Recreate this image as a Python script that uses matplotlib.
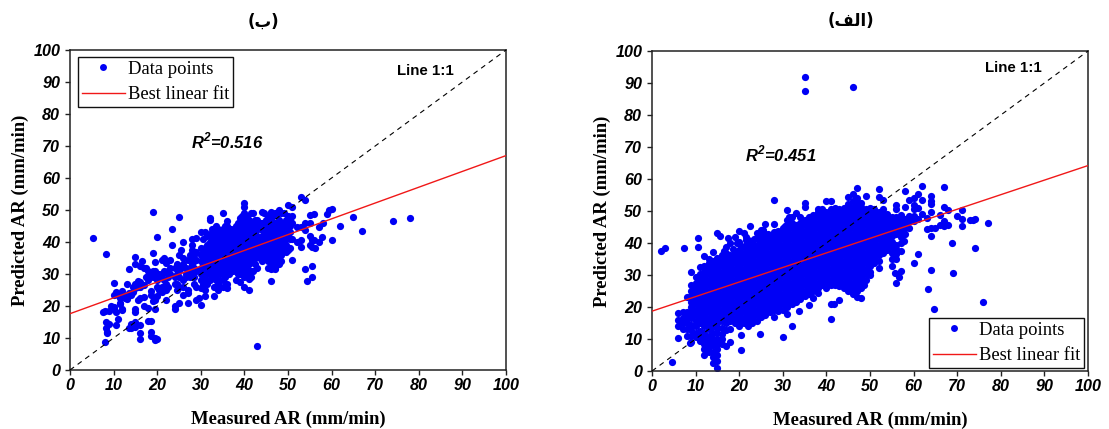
import matplotlib
matplotlib.use("Agg")
import matplotlib.pyplot as plt
from matplotlib.lines import Line2D

W, H = 1109, 429
TICKS = list(range(0, 101, 10))
TITLE_B = "(\u0628)"
TITLE_A = "(\uFED2\uFEDF\u0627)"
R2_B = "0.516"
R2_A = "0.451"
FIT_X = [0, 100]
FIT_B = [17.6, 67.0]
FIT_A = [18.7, 64.2]
ONE_TO_ONE = [0, 100]

measured_b = [5.2, 7.5, 8, 8.3, 8.5, 9, 9.5, 10, 10.5, 11, 11.5, 12, 12.5, 13, 13.5, 14, 14.5, 15, 15.5,
              16, 16.5, 17, 17.5, 18, 18.5, 19, 19.5, 20, 21, 21.5, 22, 23, 23.4, 24, 25, 25.5, 26, 27, 28,
              29, 29.5, 30, 31, 32, 33, 34, 35, 36, 37, 38, 39, 40, 41, 42, 43, 44, 45, 46, 47, 48, 49, 50,
              51, 52, 53, 54, 54.3, 55, 55.5, 56, 56.3, 57, 57.7, 58, 59, 59.5, 60, 62, 65, 67, 74, 78,
              20.5, 22.5, 24.5, 26.5, 27.5, 28.5, 30.5, 31.5, 32.5, 33.5, 34.5, 35.5, 36.5, 37.5, 38.5, 39.5,
              40.5, 41.5, 42.5, 43.5, 44.5, 45.5, 46.5, 47.5, 48.5, 49.5, 50.5]
predicted_b = [
    [41.3], [18], [18.3, 8.7], [36.4, 15, 13], [12, 11.5], [18.5, 14.5], [20], [27.3, 23.5, 19.8, 19],
    [24.5, 18, 14], [23.5, 16], [22.5, 21, 20.5], [24.8, 23, 19, 18.8], [22.5], [22.3, 23, 27],
    [31.5, 24, 13], [23.5, 13.2, 14.5], [24.5, 26], [35.4, 33, 27, 25.5, 19, 18, 15, 13.5], [27.8, 26, 21.8],
    [32.5, 27.5, 26, 22.5, 14.2, 11.5, 9.6], [34], [32, 26.5, 22.8, 20], [29, 32], [31, 29.5, 28, 19.5, 15.2],
    [30, 24.8, 23.5, 15.2, 12, 10.5], [49.5, 36.6, 31, 29, 21.5], [33.8, 31, 30, 22, 19, 10, 9.3],
    [41.5, 9.6, 30, 28, 26, 23], [34.5, 30, 26, 24.5], [35, 31, 28], [33.5, 30.5, 27, 25, 22], [34.5, 32, 30],
    [44, 39], [32, 29, 27, 20, 19], [47.8, 36, 31, 29, 26, 20.8], [37.5, 32], [40, 35, 33, 28, 26, 23.5],
    [34.5, 31, 25, 24, 20.8], [41, 39, 37.5, 35, 33, 30], [41.3, 37, 34.5, 31, 26, 22], [22.5],
    [43, 38, 36, 34, 32, 30, 28, 25.5, 20.3], [43, 38, 36, 33, 31, 28.5, 25, 23],
    [47.5, 46.8, 42.5, 40, 38, 36, 34, 32, 30, 28], [43, 41, 39, 37, 35, 33, 31, 29, 26, 23],
    [44, 42, 40, 38, 36, 34, 32, 30, 27, 25], [49, 44, 42, 40, 38, 36, 34, 32, 30, 28, 26],
    [46.5, 45, 43, 41, 39, 37, 35, 33, 31, 27, 25.5], [44, 42, 40, 38, 36, 34, 32],
    [45, 43, 41, 39, 37, 35, 33, 28], [47.5, 46, 44, 42, 40, 38, 36, 34, 32, 30, 27.5],
    [52.3, 51, 49, 47, 45, 43, 41, 39, 37, 35, 33, 31, 29, 26], [47, 45, 43, 41, 39, 37, 35, 33, 30, 28.5, 25],
    [49, 46, 44, 42, 40, 38, 36, 34, 31], [47, 45, 42, 40, 38, 36, 32, 7.4], [49.3, 46, 44, 42, 40, 38, 36, 34],
    [47, 45, 43, 41, 39, 37, 35], [49.5, 47.5, 45, 43, 41, 39, 37, 35, 33, 31.5, 27.9],
    [49, 46, 44, 42, 40, 38, 36, 34, 32, 31.5], [50, 47, 45, 43, 41, 39, 37, 35, 33], [49, 46, 44, 42, 40, 38],
    [51.6, 48, 46, 44, 42, 38, 37.5], [51, 48, 46, 41, 34.5], [44.7, 40], [54.2, 44.7, 40.5, 38.5],
    [53, 45.8, 43.7, 31.5], [27.7], [48.4, 46, 42, 39], [40.5, 38.5, 32.6, 29.2], [48.6, 40.5], [38.1],
    [44.8, 40], [41.7], [46], [48.8], [50], [50.2, 40.6], [45], [47.8], [43.4], [46.6], [47.5],
    [30, 29, 25], [31, 29, 26], [33, 30, 27, 25], [32, 30, 29], [36, 32, 29], [36, 34, 32, 29, 27],
    [41, 37, 35, 33, 29, 27], [42, 39, 37, 35, 32, 30, 27], [44, 41, 39, 37, 35, 33, 31, 29],
    [45, 42, 40, 38, 36, 34, 32, 28], [43, 41, 39, 37, 35, 33, 31, 28], [45, 43, 41, 39, 37, 35, 33, 31, 29],
    [44, 42, 40, 38, 36, 34, 32, 30], [43, 41, 39, 37, 35, 33, 31], [46, 44, 42, 40, 38, 36, 34, 32, 30],
    [48, 45, 43, 41, 39, 37, 35, 33, 31], [48, 46, 44, 42, 40, 38, 36, 34, 32], [49, 44, 42, 40, 38, 36, 34, 31, 29],
    [47, 43, 41, 39, 37, 35, 33], [46, 44, 41, 39, 37, 35], [49, 45, 43, 41, 39, 37],
    [48, 46, 44, 42, 40, 38, 36, 34, 32], [48, 46, 44, 42, 40, 38, 36, 34, 32], [49, 46, 44, 42, 40, 38, 36, 34, 33],
    [49, 46, 44, 42, 40, 38, 36, 34], [47, 45, 43, 41, 39, 37], [47, 45, 43, 41, 38],
]

measured_a = [2, 3, 4.5, 6, 7, 7.3, 8, 8.7, 9, 10, 10.5, 11, 12, 13, 14, 15, 15.5, 16, 17, 17.5, 18, 19, 19.5, 20,
              20.3, 21, 21.5, 22, 22.5, 23, 24, 24.8, 25, 26, 27, 28, 29, 30, 31, 32, 33, 33.7, 34, 35, 36, 37,
              38, 39, 40, 41, 41.7, 42, 43, 44, 45, 46, 47, 48, 48.6, 49, 50, 51, 52, 53, 54, 55, 55.7, 56, 56.7,
              57, 57.8, 58, 59, 60, 61, 62, 63, 63.4, 64, 64.7, 65, 66, 67, 68, 68.7, 69, 70, 71, 73, 73.6, 74,
              76, 77,
              16.5, 18.5, 20.5, 21.5, 22.5, 23.5, 24.5, 25.5, 26.5, 27.5, 28.5, 29.5, 30.5, 31.5]
predicted_a = [
    [37.5], [38.3], [2.7], [14, 16, 18, 10.2], [13, 15, 16.5, 18.5], [38.4], [11, 13, 15, 17, 18.3, 23], [8.8],
    [9, 11, 12.8, 14.5, 16.6, 18.3, 20, 21.7, 23.4, 25.1, 26.8, 30.8],
    [10.5, 12, 14, 15.7, 17.4, 19.1, 20.8, 22.5, 24.2, 25.9, 27.6, 29.3], [41.5, 38.6],
    [9.5, 11, 12.5, 14.9, 16.6, 18.3, 20, 21.7, 23.4, 25.1, 26.8, 28.5, 30.2, 32.5],
    [5, 7, 8.5, 10, 12, 14, 15.7, 17.4, 19.1, 20.8, 22.5, 24.2, 25.9, 27.6, 29.3, 31, 32.7, 36],
    [6, 7.5, 9, 11, 13, 14.9, 16.6, 18.3, 20, 21.7, 23.4, 25.1, 26.8, 28.5, 30.2, 31.9, 33.6, 35],
    [2.5, 4.5, 6, 8, 10, 12, 14, 15.7, 17.4, 19.1, 20.8, 22.5, 24.2, 25.9, 27.6, 29.3, 31, 32.7, 34.4, 37.3],
    [1, 3, 5, 7, 8.5, 10, 12, 13.5, 14.9, 16.6, 18.3, 20, 21.7, 23.4, 25.1, 26.8, 28.5, 30.2, 31.9, 33.6, 35.3, 43],
    [42.3],
    [8.5, 10, 11.5, 13.5, 15.7, 17.4, 19.1, 20.8, 22.5, 24.2, 25.9, 27.6, 29.3, 31, 32.7, 34.4, 36.1],
    [7.8, 12.8, 14.9, 16.6, 18.3, 20, 21.7, 23.4, 25.1, 26.8, 28.5, 30.2, 31.9, 33.6, 35.3, 37, 38.7],
    [41.5],
    [9, 13, 15.7, 17.4, 19.1, 20.8, 22.5, 24.2, 25.9, 27.6, 29.3, 31, 32.7, 34.4, 36.1, 40],
    [14.9, 16.6, 18.3, 20, 21.7, 23.4, 25.1, 26.8, 28.5, 30.2, 31.9, 33.6, 35.3, 37, 41.8],
    [40],
    [14.2, 15.7, 17.4, 19.1, 20.8, 22.5, 24.2, 25.9, 27.6, 29.3, 31, 32.7, 34.4, 36.1, 37.8, 40.3, 43.7],
    [6.5, 11.4],
    [14.9, 16.6, 18.3, 20, 21.7, 23.4, 25.1, 26.8, 28.5, 30.2, 31.9, 33.6, 35.3, 37, 38.7, 43], [42],
    [14, 15.7, 17.4, 19.1, 20.8, 22.5, 24.2, 25.9, 27.6, 29.3, 31, 32.7, 34.4, 36.1, 37.8, 39.5, 41], [45.2],
    [14.9, 16.6, 18.3, 20, 21.7, 23.4, 25.1, 26.8, 28.5, 30.2, 31.9, 33.6, 35.3, 37, 38.7, 40.4],
    [15.7, 17.4, 19.1, 20.8, 22.5, 24.2, 25.9, 27.6, 29.3, 31, 32.7, 34.4, 36.1, 37.8, 39.5, 41.5, 43], [11.6],
    [17, 18.3, 20, 21.7, 23.4, 25.1, 26.8, 28.5, 30.2, 31.9, 33.6, 35.3, 37, 38.7, 40.4, 42, 44],
    [17.4, 19.1, 20.8, 22.5, 24.2, 25.9, 27.6, 29.3, 31, 32.7, 34.4, 36.1, 37.8, 39.5, 41.2, 42.8, 45.8],
    [18.3, 20, 21.7, 23.4, 25.1, 26.8, 28.5, 30.2, 31.9, 33.6, 35.3, 37, 38.7, 40.4, 42.1],
    [53.4, 45.8, 43.5, 19.4, 16.8, 19.1, 20.8, 22.5, 24.2, 25.9, 27.6, 29.3, 31, 32.7, 34.4, 36.1, 37.8, 39.5, 41.2, 42.9],
    [18.7, 20, 21.7, 23.4, 25.1, 26.8, 28.5, 30.2, 31.9, 33.6, 35.3, 37, 38.7, 40.4, 42.1, 43.8],
    [10.7, 19.1, 20.8, 22.5, 24.2, 25.9, 27.6, 29.3, 31, 32.7, 34.4, 36.1, 37.8, 39.5, 41.2, 42.9, 44.6],
    [17.7, 20, 21.7, 23.4, 25.1, 26.8, 28.5, 30.2, 31.9, 33.6, 35.3, 37, 38.7, 40.4, 42.1, 43.8, 45.5, 47.2, 50.3],
    [14.2, 22.9, 20.8, 22.5, 24.2, 25.9, 27.6, 29.3, 31, 32.7, 34.4, 36.1, 37.8, 39.5, 41.2, 42.9, 44.6, 46.3, 48],
    [21.7, 23.4, 25.1, 26.8, 28.5, 30.2, 31.9, 33.6, 35.3, 37, 38.7, 40.4, 42.1, 43.8, 45.5, 49.5], [18.7],
    [22.5, 24.2, 25.9, 27.6, 29.3, 31, 32.7, 34.4, 36.1, 37.8, 39.5, 41.2, 42.9, 44.6, 46.3, 48],
    [92, 87.6, 52.5, 51.4, 23.4, 25.1, 26.8, 28.5, 30.2, 31.9, 33.6, 35.3, 37, 38.7, 40.4, 42.1, 43.8, 45.5, 47.2],
    [20.5, 24.2, 25.9, 27.6, 29.3, 31, 32.7, 34.4, 36.1, 37.8, 39.5, 41.2, 42.9, 44.6, 46.3, 48],
    [22.7, 25.1, 26.8, 28.5, 30.2, 31.9, 33.6, 35.3, 37, 38.7, 40.4, 42.1, 43.8, 45.5, 47.2, 48.9],
    [24.4, 25.9, 27.6, 29.3, 31, 32.7, 34.4, 36.1, 37.8, 39.5, 41.2, 42.9, 44.6, 46.3, 48, 49.7, 50.5],
    [26.8, 28.5, 30.2, 31.9, 33.6, 35.3, 37, 38.7, 40.4, 42.1, 43.8, 45.5, 47.2, 48.9, 50.6],
    [26, 27.6, 29.3, 31, 32.7, 34.4, 36.1, 37.8, 39.5, 41.2, 42.9, 44.6, 46.3, 48, 49.7, 53.2],
    [16.1, 20.8, 26.8, 28.5, 30.2, 31.9, 33.6, 35.3, 37, 38.7, 40.4, 42.1, 43.8, 45.5, 47.2, 48.9, 50.6, 53.2],
    [20.8],
    [27, 28.4, 29.3, 31, 32.7, 34.4, 36.1, 37.8, 39.5, 41.2, 42.9, 44.6, 46.3, 48, 49.7, 51],
    [22.3, 26.5, 28.5, 30.2, 31.9, 33.6, 35.3, 37, 38.7, 40.4, 42.1, 43.8, 45.5, 47.2, 48.9, 50.6],
    [26, 27.6, 29.3, 31, 32.7, 34.4, 36.1, 37.8, 39.5, 41.2, 42.9, 44.6, 46.3, 48, 49.7, 51],
    [25, 26.8, 28.5, 30.2, 31.9, 33.6, 35.3, 37, 38.7, 40.4, 42.1, 43.8, 45.5, 47.2, 48.9, 50.6, 52.3, 54.5],
    [88.7, 24, 25.9, 27.6, 29.3, 31, 32.7, 34.4, 36.1, 37.8, 39.5, 41.2, 42.9, 44.6, 46.3, 48, 49.7, 51.4, 53.1, 55.2],
    [57.2, 23, 25.1, 26.8, 28.5, 30.2, 31.9, 33.6, 35.3, 37, 38.7, 40.4, 42.1, 43.8, 45.5, 47.2, 48.9, 50.6, 52.3, 54],
    [22.9, 25.9, 27.6, 29.3, 31, 32.7, 34.4, 36.1, 37.8, 39.5, 41.2, 42.9, 44.6, 46.3, 48, 49.7, 51.4, 52.5], [27],
    [54.8, 28.5, 30.2, 31.9, 33.6, 35.3, 37, 38.7, 40.4, 42.1, 43.8, 45.5, 47.2, 48.9, 50.6],
    [30.1, 31, 32.7, 34.4, 36.1, 37.8, 39.5, 41.2, 42.9, 44.6, 46.3, 48, 49.7, 51],
    [33.6, 35.3, 37, 38.7, 40.4, 42.1, 43.8, 45.5, 47.2, 48.9, 50.6],
    [56.8, 54.5, 32.2, 34.4, 36.1, 37.8, 39.5, 41.2, 42.9, 44.6, 46.3, 48, 49.7],
    [53.3, 37, 38.7, 40.4, 42.1, 43.8, 45.5, 47.2, 48.9, 50.6],
    [37.8, 39.5, 41.2, 42.9, 44.6, 46.3, 48, 49],
    [32.7, 35, 37, 38.7, 40.4, 42.1, 43.8, 45.5, 47.2, 48.2], [30.5],
    [52, 50.6, 27.5, 35, 36.5, 38, 39.5, 42.9, 44.6, 46.3, 48], [29.3],
    [48.9, 31.2, 37.5, 40, 42, 43.8, 45.5, 47.2], [40.5], [56.1, 51.2, 42.9, 44.6, 46.3, 47.5], [53.3, 44.8, 47, 48.5],
    [54, 52, 50.6, 48.5, 46.8, 33.8], [55.4, 51, 47.5, 36.7], [57.9, 53.5, 49], [47.8, 44.5], [25.5],
    [54.6, 53, 52.3, 49.7, 44.7, 42.1, 31.5], [19.3], [44.7], [48.9, 45.7], [57.4, 51.2, 47, 45.2], [50.4, 45.7], [40.1],
    [30.5], [48.5], [50.4, 47.5, 45.2], [47.3], [47.3], [47.5, 38.3], [21.6], [46.3],
    [37.5], [38], [39], [39.5, 41], [40.5], [41.2], [42], [42.5, 44], [42.8], [42], [43.5], [43.5], [45.2], [46.5, 48],
]


def flatten(xs, ys):
    px, py = [], []
    for x, col in zip(xs, ys):
        for y in col:
            px.append(x)
            py.append(y)
    return px, py


def px_axes(fig, l, t, r, b):
    return fig.add_axes([l / W, 1 - b / H, (r - l) / W, (b - t) / H])


plt.rcParams["font.family"] = ["Liberation Sans", "DejaVu Sans"]
plt.rcParams["mathtext.fontset"] = "custom"
plt.rcParams["mathtext.bf"] = "Liberation Sans:italic:bold"
plt.rcParams["mathtext.rm"] = "Liberation Sans:italic:bold"
fig = plt.figure(figsize=(W / 100, H / 100), dpi=100)
SERIF = "Liberation Serif"
BLUE = "#0000f5"
RED = "#f01818"


def panel(ax, xs, ys, fit, r2, line_xy, r2_xy, legend_xy):
    px, py = flatten(xs, ys)
    ax.scatter(px, py, s=27, c=BLUE, linewidths=0, zorder=2, clip_on=True)
    ax.plot(ONE_TO_ONE, ONE_TO_ONE, color="black", lw=0.8, dashes=(4.5, 4), zorder=3)
    ax.plot(FIT_X, fit, color=RED, lw=1.0, zorder=4)
    ax.set_xlim(0, 100)
    ax.set_ylim(0, 100)
    ax.set_xticks(TICKS)
    ax.set_yticks(TICKS)
    ax.tick_params(length=3.5, width=1, color="#222222", pad=2, direction="out")
    ax.tick_params(axis="y", pad=3.5)
    for lab in ax.get_xticklabels() + ax.get_yticklabels():
        lab.set_fontweight("bold")
        lab.set_fontstyle("italic")
        lab.set_fontsize(11.6)
    for s in ax.spines.values():
        s.set_linewidth(1.1)
        s.set_color("#222222")
    ax.set_xlabel("Measured AR (mm/min)", family=SERIF, fontweight="bold", fontsize=13.4, labelpad=13)
    ax.set_ylabel("Predicted AR (mm/min)", family=SERIF, fontweight="bold", fontsize=13.4, labelpad=3)
    ax.text(*line_xy, "Line 1:1", fontweight="bold", fontsize=10.8, ha="center", va="center")
    ax.text(*r2_xy, "R$^{\\mathbf{2}}$=" + r2, fontweight="bold", fontstyle="italic", fontsize=12,
            ha="center", va="center")
    handles = [
        Line2D([], [], ls="none", marker="o", ms=5.0, mfc=BLUE, mec=BLUE, mew=0, label="Data points"),
        Line2D([], [], color=RED, lw=1.0, label="Best linear fit"),
    ]
    leg = ax.legend(handles=handles, loc="upper left", bbox_to_anchor=(legend_xy[0] / W, 1 - legend_xy[1] / H),
                    bbox_transform=fig.transFigure, borderaxespad=0, fancybox=False, framealpha=1,
                    edgecolor="#111111", prop={"family": SERIF, "size": 13.4}, handlelength=2.3,
                    handletextpad=0.2, borderpad=0.2, labelspacing=0.45, numpoints=1)
    leg.get_frame().set_linewidth(1.0)
    leg.set_zorder(6)


ax_b = px_axes(fig, 70, 50, 506, 370)
panel(ax_b, measured_b, predicted_b, FIT_B, R2_B, (81.4, 93.3), (36, 71.6), (78, 57))
ax_a = px_axes(fig, 652, 51, 1088, 371)
panel(ax_a, measured_a, predicted_a, FIT_A, R2_A, (82.8, 94.7), (29.6, 67.8), (929, 318))

fig.text(263 / W, 1 - 22 / H, TITLE_B, family=["DejaVu Sans"], fontweight="bold", fontsize=12, ha="center", va="center")
fig.text(851 / W, 1 - 21 / H, TITLE_A, family=["DejaVu Sans"], fontweight="bold", fontsize=12, ha="center", va="center")

fig.savefig("out.png", dpi=100)
